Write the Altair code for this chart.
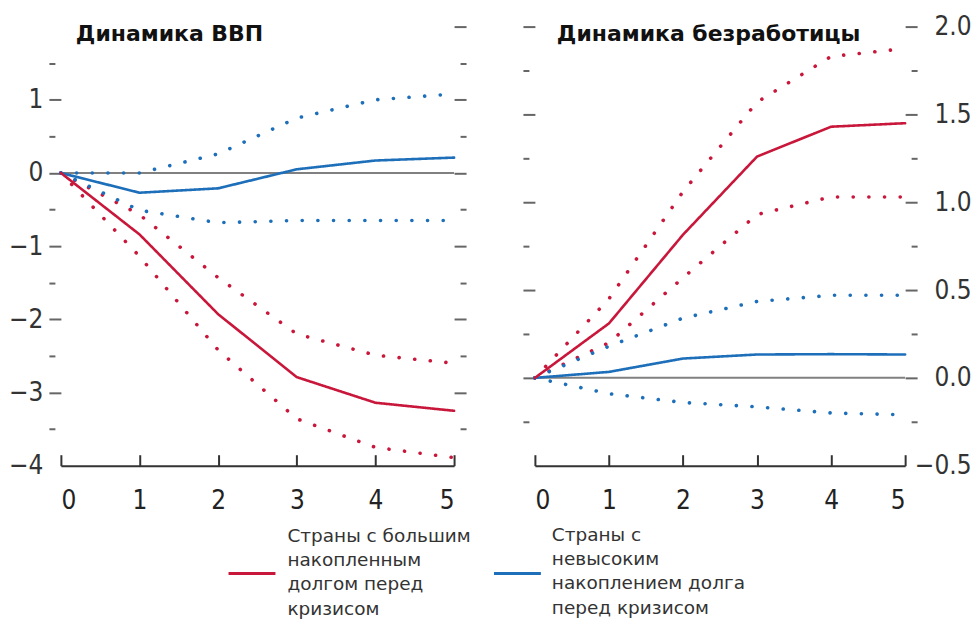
import altair as alt
import pandas as pd

# ---------------- data ----------------
years = [0, 1, 2, 3, 4, 5]

gdp_high = [0, -0.84, -1.93, -2.79, -3.14, -3.25]
gdp_high_up = [0, -0.57, -1.43, -2.20, -2.49, -2.60]
gdp_high_lo = [0, -1.14, -2.42, -3.36, -3.75, -3.89]
gdp_low = [0, -0.27, -0.21, 0.05, 0.17, 0.21]
gdp_low_up = [0, 0.00, 0.26, 0.75, 1.00, 1.08]
gdp_low_lo = [0, -0.51, -0.68, -0.65, -0.65, -0.65]

une_high = [0, 0.31, 0.815, 1.26, 1.43, 1.45]
une_high_up = [0, 0.45, 1.06, 1.57, 1.83, 1.875]
une_high_lo = [0, 0.20, 0.57, 0.93, 1.03, 1.03]
une_low = [0, 0.034, 0.11, 0.133, 0.135, 0.133]
une_low_up = [0, 0.18, 0.34, 0.435, 0.47, 0.47]
une_low_lo = [0, -0.09, -0.14, -0.165, -0.20, -0.21]

groups = ["high", "low"]
group_labels = [
    "Страны с большим\nнакопленным\nдолгом перед\nкризисом",
    "Страны с\nневысоким\nнакоплением долга\nперед кризисом",
]
titles = ["Динамика ВВП", "Динамика безработицы"]

RED = "#C8173A"
BLUE = "#1E6FBA"
TICK = "#666666"
LABEL_FONT = "Liberation Sans Narrow, Arial Narrow, DejaVu Sans Condensed, sans-serif"


def make_df(series):
    rows = []
    for name, grp, kind, vals in series:
        for x, v in zip(years, vals):
            rows.append({"x": x, "v": v, "series": name, "group": grp, "kind": kind})
    return pd.DataFrame(rows)


gdp_df = make_df([
    ("gh_up", "high", "band", gdp_high_up),
    ("gh_lo", "high", "band", gdp_high_lo),
    ("gl_up", "low", "band", gdp_low_up),
    ("gl_lo", "low", "band", gdp_low_lo),
    ("gl", "low", "mid", gdp_low),
    ("gh", "high", "mid", gdp_high),
])
une_df = make_df([
    ("uh_up", "high", "band", une_high_up),
    ("uh_lo", "high", "band", une_high_lo),
    ("ul_up", "low", "band", une_low_up),
    ("ul_lo", "low", "band", une_low_lo),
    ("ul", "low", "mid", une_low),
    ("uh", "high", "mid", une_high),
])
zero_df = pd.DataFrame({"x0": [0], "x1": [5], "y": [0]})


def panel(df, ydom, label_vals, label_side, other_major, minor_vals, fmt,
          width, title, title_x, legend_idx, legend_color, leg_x0, leg_x1, leg_tx, leg_ty,
          label_align, label_pad):
    other_side = "right" if label_side == "left" else "left"
    xs = alt.Scale(domain=[0, 5], nice=False, zero=False)
    ys = alt.Scale(domain=ydom, nice=False, zero=False)

    x_label_axis = alt.Axis(orient="bottom", values=years, format="d", ticks=False, domain=True,
                            domainColor="#333333", domainWidth=2, grid=False, title=None,
                            labelFont=LABEL_FONT, labelFontSize=26, labelColor="#222222",
                            labelPadding=22)
    x_tick_axis = alt.Axis(orient="bottom", values=years, labels=False, domain=False, grid=False,
                           title=None, tickSize=11, tickWidth=2, tickColor="#333333", offset=-11)

    major_label_axis = alt.Axis(
        orient=label_side, values=label_vals, format=fmt, domain=False, grid=False, title=None,
        tickSize=12, tickWidth=2, tickColor=TICK,
        tickOpacity={"condition": {"test": f"datum.value === {ydom[0]}", "value": 0}, "value": 1},
        labelFont=LABEL_FONT, labelFontSize=26, labelColor="#333333",
        labelPadding=label_pad, labelAlign=label_align,
    )
    major_other_axis = alt.Axis(orient=other_side, values=other_major, labels=False, domain=False,
                                grid=False, title=None, tickSize=12, tickWidth=2, tickColor=TICK)

    def minor_axis(side):
        return alt.Axis(orient=side, values=minor_vals, labels=False, domain=False, grid=False,
                        title=None, tickSize=6, tickWidth=2, tickColor=TICK, offset=6)

    zero = alt.Chart(zero_df).mark_rule(color="#808080", strokeWidth=2).encode(
        x=alt.X("x0:Q", scale=xs, axis=x_label_axis),
        x2="x1:Q",
        y=alt.Y("y:Q", scale=ys, axis=major_label_axis),
    )
    lines = alt.Chart(df).mark_line(strokeCap="round", strokeJoin="round").encode(
        x=alt.X("x:Q", scale=xs, axis=x_tick_axis),
        y=alt.Y("v:Q", scale=ys, axis=major_other_axis),
        color=alt.Color("group:N", scale=alt.Scale(domain=groups, range=[RED, BLUE]), legend=None),
        strokeDash=alt.StrokeDash("kind:N", scale=alt.Scale(domain=["mid", "band"],
                                                            range=[[1, 0], [0.1, 15.6]]), legend=None),
        strokeWidth=alt.StrokeWidth("kind:N", scale=alt.Scale(domain=["mid", "band"], range=[2.6, 3.6]),
                                    legend=None),
        detail="series:N",
        order=alt.Order("x:Q"),
    )
    minor_a = alt.Chart(zero_df).mark_rule(opacity=0).encode(
        x=alt.X("x0:Q", scale=xs, axis=None), x2="x1:Q",
        y=alt.Y("y:Q", scale=ys, axis=minor_axis(label_side)),
    )
    minor_b = alt.Chart(zero_df).mark_rule(opacity=0).encode(
        x=alt.X("x0:Q", scale=xs, axis=None), x2="x1:Q",
        y=alt.Y("y:Q", scale=ys, axis=minor_axis(other_side)),
    )
    ttl = alt.Chart(pd.DataFrame({"t": [title]})).mark_text(
        align="left", baseline="alphabetic", font="DejaVu Sans", fontWeight="bold",
        fontSize=22, color="#111111",
    ).encode(x=alt.value(title_x), y=alt.value(14), text="t:N")

    leg_rule = alt.Chart(pd.DataFrame({"g": [groups[legend_idx]]})).mark_rule(
        color=legend_color, strokeWidth=3
    ).encode(x=alt.value(leg_x0), x2=alt.value(leg_x1), y=alt.value(548))
    leg_text = alt.Chart(pd.DataFrame({"t": [group_labels[legend_idx]]})).mark_text(
        align="left", baseline="alphabetic", lineBreak="\n", lineHeight=24.5,
        font="DejaVu Sans", fontSize=18.5, color="#333333",
    ).encode(x=alt.value(leg_tx), y=alt.value(leg_ty), text="t:N")

    return alt.layer(zero, lines, minor_a, minor_b, ttl, leg_rule, leg_text).resolve_axis(
        x="independent", y="independent"
    ).properties(width=width, height=440)


left = panel(gdp_df, [-4, 2], [-4, -3, -2, -1, 0, 1], "left", [-3, -2, -1, 0, 1, 2],
             [-3.5, -2.5, -1.5, -0.5, 0.5, 1.5], "d", 394, titles[0], 15,
             0, RED, 168, 215, 227, 516, "right", 6)
right = panel(une_df, [-0.5, 2.0], [-0.5, 0, 0.5, 1.0, 1.5, 2.0], "right", [0, 0.5, 1.0, 1.5, 2.0],
              [-0.25, 0.25, 0.75, 1.25, 1.75], ".1f", 371, titles[1], 22,
              1, BLUE, -41, 6, 17, 515, "right", 54)

chart = alt.hconcat(left, right, spacing=81, bounds="flush").properties(
    padding={"left": 0, "top": 5, "right": 0, "bottom": 0}
).configure_view(stroke=None)

chart.save("out.html", embed_options={"renderer": "svg", "actions": False})
